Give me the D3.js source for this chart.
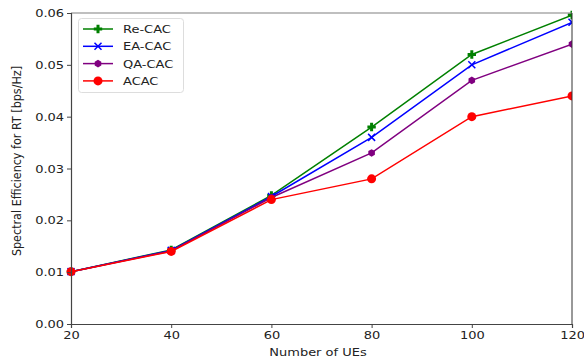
<!DOCTYPE html>
<html><head><meta charset="utf-8">
<script src="https://cdn.jsdelivr.net/npm/d3@7"></script>
<style>body{margin:0;background:#fff}svg{display:block;font-family:"DejaVu Sans",sans-serif}</style>
</head><body><svg id="c" width="584" height="360"></svg>
<script>
const xValues = [20, 40, 60, 80, 100, 120];
const reCAC = [0.0101, 0.0143, 0.0248, 0.038, 0.052, 0.0596];
const eaCAC = [0.0101, 0.0142, 0.0246, 0.036, 0.050, 0.0582];
const qaCAC = [0.0101, 0.0141, 0.0244, 0.033, 0.047, 0.054];
const acac = [0.0101, 0.014, 0.024, 0.028, 0.040, 0.044];
const seriesNames = ["Re-CAC", "EA-CAC", "QA-CAC", "ACAC"];
const xTicks = [20, 40, 60, 80, 100, 120];
const yTicks = [0, 0.01, 0.02, 0.03, 0.04, 0.05, 0.06];

const series = [
  {name: seriesNames[0], vals: reCAC, color: "green", marker: "plus"},
  {name: seriesNames[1], vals: eaCAC, color: "blue", marker: "x"},
  {name: seriesNames[2], vals: qaCAC, color: "purple", marker: "hex"},
  {name: seriesNames[3], vals: acac, color: "red", marker: "circle"}
];

const SX = 1.15; // horizontal text stretch seen in the reference
const svg = d3.select("#c");
const L = 71, R = 572, T = 13, B = 324;
const x = d3.scaleLinear().domain([20, 120]).range([L, R]);
const y = d3.scaleLinear().domain([0, 0.06]).range([B, T]);

svg.append("defs").append("clipPath").attr("id","clip").append("rect")
  .attr("x", L-8).attr("y", T-8).attr("width", R-L+8).attr("height", B-T+16);

function drawMarker(g, type, cx, cy, color) {
  if (type === "plus") {
    const a = 4.2, w = 1.5;
    g.append("path").attr("d", `M${cx-a},${cy-w}H${cx-w}V${cy-a}H${cx+w}V${cy-w}H${cx+a}V${cy+w}H${cx+w}V${cy+a}H${cx-w}V${cy+w}H${cx-a}Z`)
      .attr("fill", color);
  } else if (type === "x") {
    const a = 3.5;
    g.append("path").attr("d", `M${cx-a},${cy-a}L${cx+a},${cy+a}M${cx-a},${cy+a}L${cx+a},${cy-a}`)
      .attr("stroke", color).attr("stroke-width", 1.5).attr("fill","none");
  } else if (type === "hex") {
    const r = 3.8;
    const pts = d3.range(6).map(i => {
      const ang = Math.PI/2 + i*Math.PI/3;
      return [cx + r*Math.cos(ang), cy - r*Math.sin(ang)];
    });
    g.append("path").attr("d", "M" + pts.map(p=>p.join(",")).join("L") + "Z").attr("fill", color);
  } else {
    g.append("circle").attr("cx", cx).attr("cy", cy).attr("r", 4.5).attr("fill", color);
  }
}

const line = d3.line().x((d,i)=>x(xValues[i])).y(d=>y(d));
const lines = svg.append("g").attr("clip-path","url(#clip)");
series.forEach(s => {
  lines.append("path").datum(s.vals).attr("d", line).attr("fill","none")
    .attr("stroke", s.color).attr("stroke-width", 1.5);
  const mg = lines.append("g");
  s.vals.forEach((v,i) => drawMarker(mg, s.marker, x(xValues[i]), y(v), s.color));
});

// spines
svg.append("line").attr("x1",L).attr("x2",R).attr("y1",T).attr("y2",T).attr("stroke","#808080").attr("stroke-width",1.2);
svg.append("line").attr("x1",R).attr("x2",R).attr("y1",T).attr("y2",B).attr("stroke","#333").attr("stroke-width",1);

const xAxis = svg.append("g").attr("transform",`translate(0,${B})`)
  .call(d3.axisBottom(x).tickValues(xTicks).tickSize(4).tickPadding(3).tickFormat(d3.format("d")));
const yAxis = svg.append("g").attr("transform",`translate(${L},0)`)
  .call(d3.axisLeft(y).tickValues(yTicks).tickSize(4).tickPadding(2).tickFormat(d3.format(".2f")));
[xAxis, yAxis].forEach(a => {
  a.selectAll("path.domain").attr("stroke","#444").attr("stroke-width",1.2);
  a.selectAll(".tick line").attr("stroke","#444");
  a.selectAll("text").attr("font-family","DejaVu Sans").attr("font-size", 11.3).attr("fill","#222")
    .attr("transform", `scale(${SX},1)`);
});
xAxis.selectAll("text").attr("x", 0);

function hText(px, py, str, size, anchor) {
  return svg.append("g").attr("transform", `translate(${px},${py}) scale(${SX},1)`)
    .append("text").attr("text-anchor", anchor).attr("font-size", size).attr("fill","#222").text(str);
}
hText(318, 356, "Number of UEs", 11.3, "middle");
svg.append("text").attr("transform", `translate(21,161) rotate(-90) scale(1,${SX})`).attr("text-anchor","middle")
  .attr("font-size", 11.2).attr("fill","#222").text("Spectral Efficiency for RT [bps/Hz]");

// legend
const lg = svg.append("g");
lg.append("rect").attr("x",78.5).attr("y",18.5).attr("width",105).attr("height",74).attr("rx",3)
  .attr("fill","white").attr("fill-opacity",0.8).attr("stroke","#ddd");
series.forEach((s,i) => {
  const yy = 29 + i*17.3;
  lg.append("line").attr("x1",83).attr("x2",113).attr("y1",yy).attr("y2",yy).attr("stroke",s.color).attr("stroke-width",1.5);
  drawMarker(lg, s.marker, 98, yy, s.color);
  hText(123, yy+4, s.name, 11.3, "start");
});
</script></body></html>
